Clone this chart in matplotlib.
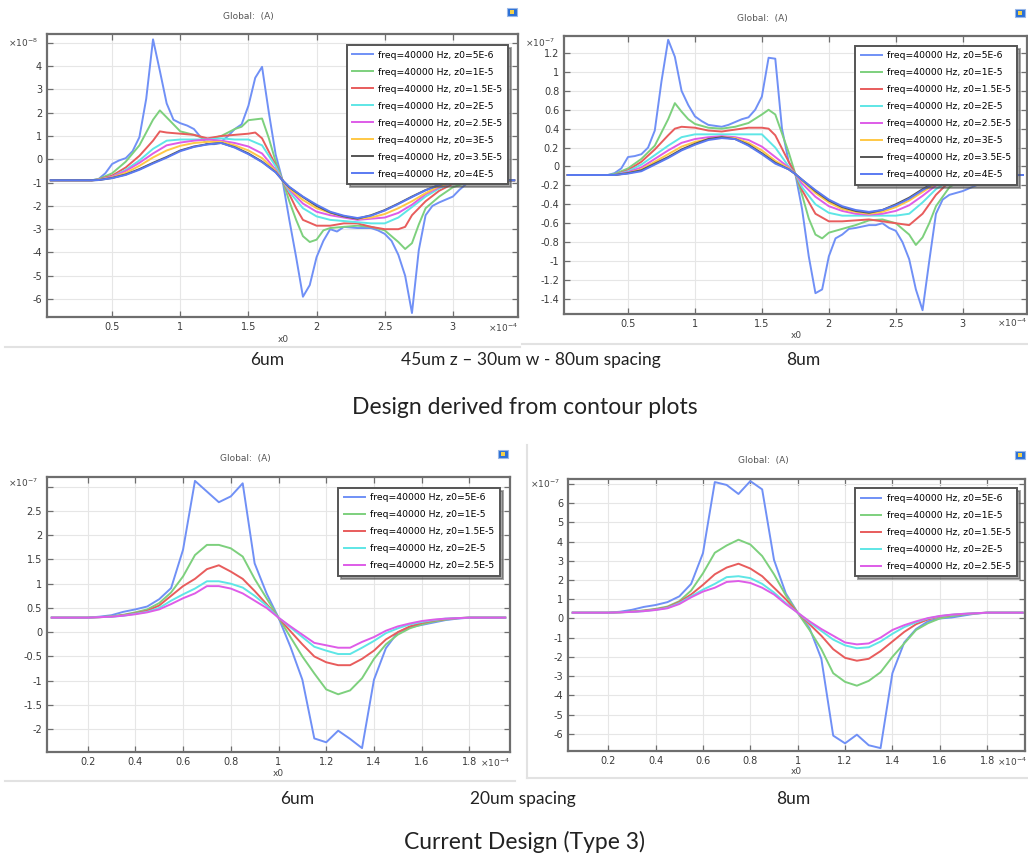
import matplotlib
matplotlib.use('Agg')
import matplotlib.pyplot as plt
from matplotlib.lines import Line2D
from matplotlib.patches import Rectangle

# ---------------- data ----------------
LABELS = ['freq=40000 Hz, z0=5E-6', 'freq=40000 Hz, z0=1E-5', 'freq=40000 Hz, z0=1.5E-5',
          'freq=40000 Hz, z0=2E-5', 'freq=40000 Hz, z0=2.5E-5', 'freq=40000 Hz, z0=3E-5',
          'freq=40000 Hz, z0=3.5E-5', 'freq=40000 Hz, z0=4E-5']
COLORS = ['#7090f6', '#7dd07d', '#e85c5c', '#5ee6e6', '#de5ce8', '#ffc845', '#555555', '#5a7af2']

# --- top panels (x in 1e-4) ---
X_SMOOTH = [0.05, 0.35, 0.4, 0.5, 0.6, 0.7, 0.8, 0.9, 1.0, 1.1, 1.2, 1.3, 1.4, 1.5, 1.6, 1.7, 1.75,
            1.8, 1.9, 2.0, 2.1, 2.2, 2.3, 2.4, 2.5, 2.6, 2.7, 2.8, 2.9, 3.0, 3.1, 3.15, 3.45]

# top-left (y in 1e-8)
TL_blue1_x = [0.05, 0.35, 0.4, 0.45, 0.5, 0.55, 0.6, 0.65, 0.7, 0.75, 0.8, 0.85, 0.9, 0.95, 1.0, 1.05,
              1.1, 1.15, 1.2, 1.25, 1.3, 1.35, 1.4, 1.45, 1.5, 1.55, 1.6, 1.65, 1.7, 1.75, 1.8, 1.85,
              1.9, 1.95, 2.0, 2.05, 2.1, 2.15, 2.2, 2.3, 2.4, 2.45, 2.5, 2.55, 2.6, 2.65, 2.7, 2.75,
              2.8, 2.85, 2.9, 3.0, 3.05, 3.1, 3.15, 3.2, 3.45]
TL_blue1_y = [-0.9, -0.9, -0.85, -0.6, -0.2, -0.05, 0.05, 0.35, 0.95, 2.6, 5.15, 3.8, 2.4, 1.7, 1.55,
              1.45, 1.3, 0.95, 0.65, 0.65, 0.75, 1.0, 1.3, 1.5, 2.3, 3.5, 3.97, 2.0, 0.2, -0.9, -2.6,
              -4.2, -5.9, -5.4, -4.2, -3.5, -3.0, -3.1, -2.9, -2.95, -2.95, -3.05, -3.2, -3.5, -4.1,
              -5.0, -6.6, -3.9, -2.4, -2.0, -1.85, -1.6, -1.3, -1.05, -0.95, -0.9, -0.9]
TL_green_x = [0.05, 0.35, 0.4, 0.5, 0.6, 0.7, 0.8, 0.85, 0.9, 0.95, 1.0, 1.1, 1.2, 1.3, 1.4, 1.45, 1.5,
              1.6, 1.65, 1.7, 1.75, 1.8, 1.85, 1.9, 1.95, 2.0, 2.05, 2.1, 2.2, 2.3, 2.4, 2.5, 2.6,
              2.65, 2.7, 2.75, 2.8, 2.9, 3.0, 3.1, 3.2, 3.45]
TL_green_y = [-0.9, -0.9, -0.85, -0.6, -0.1, 0.6, 1.7, 2.1, 1.8, 1.5, 1.2, 1.05, 0.85, 1.0, 1.3, 1.4,
              1.68, 1.75, 0.9, -0.1, -0.9, -1.8, -2.6, -3.3, -3.55, -3.45, -3.05, -2.95, -2.9, -2.85,
              -2.9, -3.05, -3.55, -3.85, -3.6, -2.8, -2.1, -1.6, -1.2, -1.0, -0.9, -0.9]
TL_red_x = [0.05, 0.35, 0.4, 0.5, 0.6, 0.7, 0.8, 0.85, 0.9, 1.0, 1.1, 1.2, 1.3, 1.4, 1.5, 1.55, 1.6,
            1.7, 1.75, 1.8, 1.85, 1.9, 2.0, 2.1, 2.2, 2.3, 2.4, 2.5, 2.6, 2.65, 2.7, 2.8, 2.9, 3.0,
            3.1, 3.15, 3.45]
TL_red_y = [-0.9, -0.9, -0.87, -0.7, -0.35, 0.15, 0.8, 1.2, 1.15, 1.1, 1.05, 0.9, 1.0, 1.05, 1.1,
            1.15, 0.9, -0.25, -0.9, -1.5, -2.1, -2.6, -2.85, -2.85, -2.75, -2.75, -2.9, -3.0, -3.0,
            -2.9, -2.4, -1.8, -1.35, -1.05, -0.92, -0.9, -0.9]
TL_cyan_y = [-0.9, -0.9, -0.88, -0.75, -0.45, -0.05, 0.45, 0.8, 0.85, 0.85, 0.85, 0.9, 0.85, 0.85,
             0.6, -0.3, -0.9, -1.4, -2.1, -2.45, -2.6, -2.65, -2.7, -2.75, -2.75, -2.5, -2.05, -1.6,
             -1.25, -1.0, -0.92, -0.9, -0.9]
TL_magenta_y = [-0.9, -0.9, -0.88, -0.75, -0.5, -0.15, 0.25, 0.6, 0.72, 0.8, 0.85, 0.8, 0.7, 0.55,
                0.25, -0.45, -0.9, -1.3, -1.9, -2.25, -2.4, -2.5, -2.6, -2.55, -2.5, -2.3, -1.95,
                -1.5, -1.2, -1.0, -0.92, -0.9, -0.9]
TL_yellow_y = [-0.9, -0.9, -0.88, -0.78, -0.58, -0.28, 0.08, 0.38, 0.58, 0.7, 0.75, 0.75, 0.6, 0.38,
               0.05, -0.5, -0.9, -1.25, -1.75, -2.1, -2.3, -2.45, -2.55, -2.5, -2.35, -2.1, -1.8,
               -1.45, -1.15, -1.0, -0.92, -0.9, -0.9]
TL_black_y = [-0.9, -0.9, -0.89, -0.8, -0.65, -0.42, -0.15, 0.1, 0.38, 0.55, 0.65, 0.7, 0.52, 0.25,
              -0.1, -0.55, -0.9, -1.2, -1.62, -2.0, -2.28, -2.45, -2.55, -2.4, -2.18, -1.9, -1.6,
              -1.32, -1.1, -0.96, -0.91, -0.9, -0.9]
TL_blue2_y = [-0.9, -0.9, -0.89, -0.81, -0.67, -0.45, -0.18, 0.07, 0.35, 0.53, 0.64, 0.7, 0.5, 0.22,
              -0.12, -0.56, -0.9, -1.18, -1.6, -1.95, -2.25, -2.42, -2.52, -2.42, -2.2, -1.92, -1.62,
              -1.33, -1.1, -0.96, -0.91, -0.9, -0.9]

# top-right (y in 1e-7)
TR_blue1_x = [0.05, 0.35, 0.4, 0.45, 0.5, 0.55, 0.6, 0.65, 0.7, 0.75, 0.8, 0.85, 0.9, 0.95, 1.0, 1.05,
              1.1, 1.15, 1.2, 1.25, 1.3, 1.35, 1.4, 1.45, 1.5, 1.55, 1.6, 1.65, 1.7, 1.75, 1.8, 1.85,
              1.9, 1.95, 2.0, 2.05, 2.1, 2.15, 2.2, 2.3, 2.35, 2.4, 2.45, 2.5, 2.55, 2.6, 2.65, 2.7,
              2.75, 2.8, 2.85, 2.9, 3.0, 3.1, 3.2, 3.45]
TR_blue1_y = [-0.09, -0.09, -0.07, -0.02, 0.1, 0.11, 0.13, 0.2, 0.38, 0.9, 1.34, 1.16, 0.8, 0.65,
              0.53, 0.48, 0.44, 0.43, 0.42, 0.44, 0.47, 0.5, 0.52, 0.6, 0.74, 1.15, 1.14, 0.4, 0.05,
              -0.08, -0.45, -0.95, -1.34, -1.3, -0.95, -0.76, -0.72, -0.66, -0.65, -0.62, -0.62,
              -0.6, -0.65, -0.68, -0.8, -0.98, -1.3, -1.52, -1.0, -0.5, -0.35, -0.3, -0.26, -0.2,
              -0.1, -0.09]
TR_green_x = [0.05, 0.35, 0.4, 0.5, 0.6, 0.7, 0.8, 0.85, 0.9, 0.95, 1.0, 1.1, 1.2, 1.3, 1.4, 1.5, 1.55,
              1.6, 1.7, 1.75, 1.8, 1.85, 1.9, 1.95, 2.0, 2.1, 2.2, 2.3, 2.4, 2.5, 2.6, 2.65, 2.7,
              2.75, 2.8, 2.9, 3.0, 3.1, 3.2, 3.45]
TR_green_y = [-0.09, -0.09, -0.08, -0.02, 0.08, 0.22, 0.5, 0.67, 0.58, 0.5, 0.45, 0.41, 0.4, 0.42,
              0.46, 0.55, 0.6, 0.55, 0.15, -0.08, -0.3, -0.55, -0.72, -0.76, -0.7, -0.66, -0.62,
              -0.57, -0.56, -0.6, -0.72, -0.83, -0.75, -0.6, -0.42, -0.22, -0.13, -0.1, -0.09, -0.09]
TR_red_x = [0.05, 0.35, 0.4, 0.5, 0.6, 0.7, 0.8, 0.85, 0.9, 1.0, 1.1, 1.2, 1.3, 1.4, 1.5, 1.55, 1.6,
            1.7, 1.75, 1.8, 1.9, 2.0, 2.1, 2.2, 2.3, 2.4, 2.5, 2.6, 2.7, 2.8, 2.9, 3.0, 3.1, 3.45]
TR_red_y = [-0.09, -0.09, -0.09, -0.04, 0.05, 0.18, 0.33, 0.4, 0.42, 0.41, 0.38, 0.37, 0.39, 0.41,
            0.41, 0.4, 0.33, 0.05, -0.08, -0.25, -0.5, -0.58, -0.58, -0.57, -0.56, -0.58, -0.6,
            -0.62, -0.5, -0.3, -0.16, -0.11, -0.09, -0.09]
TR_cyan_y = [-0.09, -0.09, -0.09, -0.05, 0.02, 0.12, 0.22, 0.31, 0.34, 0.34, 0.34, 0.34, 0.34, 0.34,
             0.2, 0.0, -0.08, -0.22, -0.4, -0.49, -0.52, -0.52, -0.52, -0.52, -0.52, -0.5, -0.38,
             -0.24, -0.15, -0.11, -0.09, -0.09, -0.09]
TR_magenta_y = [-0.09, -0.09, -0.09, -0.06, -0.01, 0.08, 0.17, 0.25, 0.29, 0.31, 0.32, 0.31, 0.28,
                0.21, 0.1, -0.01, -0.08, -0.18, -0.32, -0.42, -0.47, -0.5, -0.51, -0.5, -0.47, -0.41,
                -0.31, -0.2, -0.13, -0.1, -0.09, -0.09, -0.09]
TR_yellow_y = [-0.09, -0.09, -0.09, -0.07, -0.03, 0.05, 0.13, 0.21, 0.26, 0.29, 0.31, 0.3, 0.25, 0.17,
               0.06, -0.02, -0.08, -0.15, -0.28, -0.38, -0.45, -0.48, -0.5, -0.48, -0.43, -0.36,
               -0.27, -0.18, -0.12, -0.1, -0.09, -0.09, -0.09]
TR_black_y = [-0.09, -0.09, -0.09, -0.07, -0.04, 0.03, 0.1, 0.18, 0.24, 0.29, 0.31, 0.29, 0.23, 0.14,
              0.04, -0.03, -0.08, -0.14, -0.26, -0.36, -0.43, -0.47, -0.49, -0.46, -0.4, -0.33,
              -0.24, -0.16, -0.12, -0.1, -0.09, -0.09, -0.09]
TR_blue2_y = [-0.09, -0.09, -0.09, -0.075, -0.05, 0.02, 0.09, 0.17, 0.23, 0.28, 0.3, 0.29, 0.22, 0.13,
              0.03, -0.03, -0.08, -0.14, -0.25, -0.35, -0.42, -0.46, -0.48, -0.46, -0.41, -0.34,
              -0.25, -0.17, -0.12, -0.1, -0.09, -0.09, -0.09]

# --- bottom panels (x in 1e-4, y in 1e-7) ---
X_BOTTOM = [0.05, 0.2, 0.25, 0.3, 0.35, 0.4, 0.45, 0.5, 0.55, 0.6, 0.65, 0.7, 0.75, 0.8, 0.85, 0.9,
            0.95, 1.0, 1.05, 1.1, 1.15, 1.2, 1.25, 1.3, 1.35, 1.4, 1.45, 1.5, 1.55, 1.6, 1.65, 1.7,
            1.75, 1.8, 1.95]
BL_blue = [0.3, 0.3, 0.32, 0.35, 0.42, 0.47, 0.53, 0.68, 0.91, 1.7, 3.12, 2.9, 2.68, 2.8, 3.07, 1.42,
           0.8, 0.3, -0.3, -0.98, -2.19, -2.27, -2.03, -2.2, -2.39, -0.98, -0.33, 0.0, 0.1, 0.15,
           0.2, 0.25, 0.28, 0.3, 0.3]
BL_green = [0.3, 0.3, 0.31, 0.33, 0.36, 0.41, 0.47, 0.6, 0.82, 1.15, 1.59, 1.8, 1.8, 1.73, 1.56, 1.1,
            0.7, 0.3, -0.1, -0.5, -0.85, -1.18, -1.28, -1.2, -0.95, -0.55, -0.25, -0.05, 0.08, 0.16,
            0.22, 0.26, 0.29, 0.3, 0.3]
BL_red = [0.3, 0.3, 0.31, 0.32, 0.35, 0.39, 0.44, 0.55, 0.75, 0.95, 1.1, 1.3, 1.38, 1.25, 1.1, 0.85,
          0.58, 0.3, 0.02, -0.25, -0.5, -0.62, -0.68, -0.68, -0.55, -0.38, -0.15, 0.0, 0.12, 0.19,
          0.24, 0.27, 0.29, 0.3, 0.3]
BL_cyan = [0.3, 0.3, 0.31, 0.32, 0.34, 0.38, 0.42, 0.5, 0.65, 0.78, 0.9, 1.05, 1.05, 1.0, 0.92, 0.75,
           0.55, 0.3, 0.1, -0.1, -0.3, -0.38, -0.45, -0.45, -0.32, -0.18, -0.02, 0.08, 0.16, 0.21,
           0.25, 0.28, 0.29, 0.3, 0.3]
BL_magenta = [0.3, 0.3, 0.31, 0.32, 0.34, 0.37, 0.41, 0.47, 0.58, 0.7, 0.8, 0.95, 0.95, 0.9, 0.8,
              0.65, 0.5, 0.3, 0.12, -0.05, -0.22, -0.27, -0.32, -0.32, -0.2, -0.1, 0.03, 0.12, 0.18,
              0.23, 0.26, 0.28, 0.29, 0.3, 0.3]
BR_blue = [0.3, 0.3, 0.35, 0.45, 0.6, 0.7, 0.85, 1.15, 1.8, 3.4, 7.1, 6.95, 6.48, 7.15, 6.72, 3.05,
           1.3, 0.3, -0.5, -2.1, -6.1, -6.5, -6.05, -6.6, -6.75, -2.85, -1.25, -0.55, -0.15, 0.0,
           0.05, 0.15, 0.25, 0.3, 0.3]
BR_green = [0.3, 0.3, 0.32, 0.36, 0.42, 0.5, 0.62, 0.9, 1.45, 2.35, 3.42, 3.8, 4.1, 3.85, 3.25, 2.3,
            1.2, 0.3, -0.6, -1.6, -2.85, -3.3, -3.5, -3.25, -2.8, -2.0, -1.3, -0.6, -0.25, 0.0,
            0.12, 0.2, 0.26, 0.3, 0.3]
BR_red = [0.3, 0.3, 0.32, 0.35, 0.4, 0.47, 0.58, 0.85, 1.25, 1.75, 2.3, 2.65, 2.85, 2.6, 2.2, 1.6,
          1.0, 0.3, -0.3, -0.9, -1.6, -2.05, -2.2, -2.1, -1.7, -1.2, -0.7, -0.3, -0.05, 0.1, 0.18,
          0.23, 0.27, 0.3, 0.3]
BR_cyan = [0.3, 0.3, 0.32, 0.34, 0.38, 0.45, 0.55, 0.8, 1.15, 1.5, 1.8, 2.15, 2.2, 2.1, 1.8, 1.35,
           0.8, 0.3, -0.2, -0.65, -1.1, -1.4, -1.55, -1.5, -1.2, -0.8, -0.45, -0.2, 0.0, 0.12, 0.19,
           0.24, 0.27, 0.3, 0.3]
BR_magenta = [0.3, 0.3, 0.32, 0.34, 0.38, 0.44, 0.53, 0.75, 1.1, 1.4, 1.6, 1.9, 1.95, 1.85, 1.6,
              1.25, 0.75, 0.3, -0.15, -0.55, -0.9, -1.25, -1.35, -1.3, -1.0, -0.6, -0.35, -0.15,
              0.02, 0.13, 0.2, 0.24, 0.27, 0.3, 0.3]

TOP_XTICKS = [0.5, 1, 1.5, 2, 2.5, 3]
TL_YTICKS = [-6, -5, -4, -3, -2, -1, 0, 1, 2, 3, 4, 5]
TR_YTICKS = [-1.4, -1.2, -1, -0.8, -0.6, -0.4, -0.2, 0, 0.2, 0.4, 0.6, 0.8, 1, 1.2]
BOT_XTICKS = [0.2, 0.4, 0.6, 0.8, 1, 1.2, 1.4, 1.6, 1.8]
BL_YTICKS = [-2, -1.5, -1, -0.5, 0, 0.5, 1, 1.5, 2, 2.5, 3]
BR_YTICKS = [-6, -5, -4, -3, -2, -1, 0, 1, 2, 3, 4, 5, 6, 7]

# ---------------- figure ----------------
W, H = 1028, 857
fig = plt.figure(figsize=(W / 100, H / 100), dpi=100)
fig.patch.set_facecolor('white')


def rect(l, r, t, b):
    return [l / W, 1 - b / H, (r - l) / W, (b - t) / H]


def ftext(x, y, s, **kw):
    fig.text(x / W, 1 - y / H, s, **kw)


def fline(x0, y0, x1, y1, color='#e2e2e2', lw=1.5):
    fig.add_artist(Line2D([x0 / W, x1 / W], [1 - y0 / H, 1 - y1 / H], color=color, lw=lw,
                          transform=fig.transFigure))


def style(ax, xlim, ylim, xt, yt, hide_y=None):
    ax.set_xlim(*xlim)
    ax.set_ylim(*ylim)
    ax.set_xticks(xt)
    ax.set_xticklabels([f'{round(v, 2):g}' for v in xt])
    ax.set_yticks(yt)
    ax.set_yticklabels(['' if (hide_y is not None and abs(v - hide_y) < 1e-9) else f'{round(v, 2):g}'
                        for v in yt])
    ax.grid(True, color='#e6e6e6', lw=0.8)
    ax.set_axisbelow(True)
    for s in ax.spines.values():
        s.set_color('#6e6e6e')
        s.set_linewidth(1.6)
    ax.tick_params(direction='in', length=4, width=0.9, color='#6e6e6e', top=True, right=True,
                   labelsize=7, labelcolor='#3a3a3a', pad=3.5)


def legend(ax, n, right, top):
    ax.legend(LABELS[:n], loc='upper right', bbox_to_anchor=(right, top), fontsize=6.7,
              frameon=True, fancybox=False, shadow=True, edgecolor='#555555', framealpha=1,
              borderpad=0.6, labelspacing=0.86, handlelength=2.2, handletextpad=0.6,
              borderaxespad=0)
    leg = ax.get_legend()
    leg.get_frame().set_linewidth(1.4)


def decorate(title_x, title_y, mult_top, mult_top_xy, mult_bot_xy, xlabel_xy, icon_xy):
    ftext(title_x, title_y, 'Global:  (A)', fontsize=6.5, color='#555555', ha='center', va='center')
    ftext(mult_top_xy[0], mult_top_xy[1], '×10$^{' + mult_top + '}$', fontsize=6.5,
          color='#444444', ha='left', va='center')
    ftext(mult_bot_xy[0], mult_bot_xy[1], '×10$^{-4}$', fontsize=6.5, color='#444444',
          ha='right', va='center')
    ftext(xlabel_xy[0], xlabel_xy[1], 'x0', fontsize=6.5, color='#444444', ha='center', va='center')
    ix, iy = icon_xy
    fig.add_artist(Rectangle((ix / W, 1 - (iy + 4) / H), 10 / W, 8 / H, transform=fig.transFigure,
                             facecolor='#2a6fd6', edgecolor='#9ab8e8', lw=0.8))
    fig.add_artist(Rectangle(((ix + 3) / W, 1 - (iy + 2) / H), 4 / W, 4 / H,
                             transform=fig.transFigure, facecolor='#f2d04a', edgecolor='none'))


LW = 1.4
# ---- top-left ----
ax = fig.add_axes(rect(47, 518, 34, 317))
tl_series = [(TL_blue1_x, TL_blue1_y), (TL_green_x, TL_green_y), (TL_red_x, TL_red_y),
             (X_SMOOTH, TL_cyan_y), (X_SMOOTH, TL_magenta_y), (X_SMOOTH, TL_yellow_y),
             (X_SMOOTH, TL_black_y), (X_SMOOTH, TL_blue2_y)]
for (xs, ys), c in zip(tl_series, COLORS):
    ax.plot(xs, ys, color=c, lw=LW)
style(ax, (0.022, 3.478), (-6.77, 5.38), TOP_XTICKS, TL_YTICKS, hide_y=5)
legend(ax, 8, 0.979, 0.961)
decorate(248, 17, '-8', (8, 43), (518, 328), (283, 340), (507, 12))

# ---- top-right ----
ax = fig.add_axes(rect(564, 1027, 36, 314))
tr_series = [(TR_blue1_x, TR_blue1_y), (TR_green_x, TR_green_y), (TR_red_x, TR_red_y),
             (X_SMOOTH, TR_cyan_y), (X_SMOOTH, TR_magenta_y), (X_SMOOTH, TR_yellow_y),
             (X_SMOOTH, TR_black_y), (X_SMOOTH, TR_blue2_y)]
for (xs, ys), c in zip(tr_series, COLORS):
    ax.plot(xs, ys, color=c, lw=LW)
style(ax, (0.022, 3.48), (-1.56, 1.38), TOP_XTICKS, TR_YTICKS)
legend(ax, 8, 0.978, 0.965)
decorate(762, 18, '-7', (525, 43), (1027, 323), (796, 336), (1015, 13))

# ---- bottom-left ----
ax = fig.add_axes(rect(47, 510, 477, 752))
for ys, c in zip([BL_blue, BL_green, BL_red, BL_cyan, BL_magenta], COLORS):
    ax.plot(X_BOTTOM, ys, color=c, lw=LW)
style(ax, (0.03, 1.97), (-2.47, 3.2), BOT_XTICKS, BL_YTICKS, hide_y=3)
legend(ax, 5, 0.978, 0.961)
decorate(245, 459, '-7', (8, 483), (510, 763), (278, 773), (498, 454))

# ---- bottom-right ----
ax = fig.add_axes(rect(568, 1025, 479, 751))
for ys, c in zip([BR_blue, BR_green, BR_red, BR_cyan, BR_magenta], COLORS):
    ax.plot(X_BOTTOM, ys, color=c, lw=LW)
style(ax, (0.03, 1.96), (-6.9, 7.26), BOT_XTICKS, BR_YTICKS, hide_y=7)
legend(ax, 5, 0.982, 0.966)
decorate(763, 460, '-7', (530, 484), (1027, 762), (796, 772), (1015, 455))

# ---- separators ----
fline(5, 347, 520, 347)
fline(522, 344, 1028, 344)
fline(5, 781, 515, 781)
fline(527, 778, 1028, 778)
fline(527, 445, 527, 778)

# ---- captions ----
CAP = dict(family=['Lato', 'DejaVu Sans'], color='#222222', ha='center', va='center')
ftext(267, 360, '6um', fontsize=12.5, **CAP)
ftext(531, 360, '45um z – 30um w - 80um spacing', fontsize=12.5, **CAP)
ftext(803, 360, '8um', fontsize=12.5, **CAP)
ftext(525, 408, 'Design derived from contour plots', fontsize=16.5, **CAP)
ftext(297, 799, '6um', fontsize=12.5, **CAP)
ftext(523, 799, '20um spacing', fontsize=12.5, **CAP)
ftext(793, 799, '8um', fontsize=12.5, **CAP)
ftext(525, 842, 'Current Design (Type 3)', fontsize=16.5, **CAP)

fig.savefig('out.png', dpi=100, facecolor='white')
